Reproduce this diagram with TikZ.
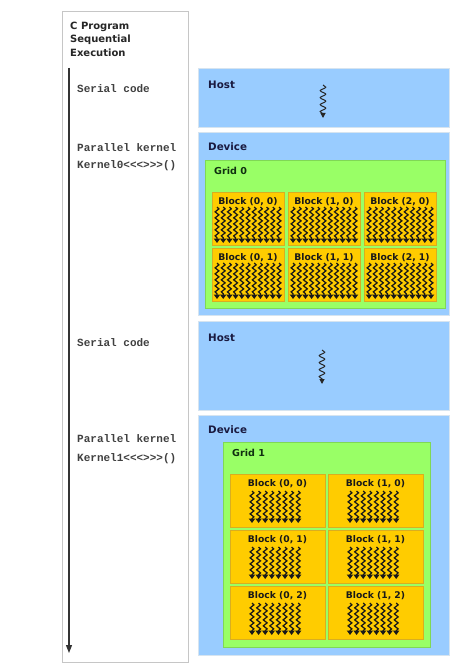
\documentclass[tikz,border=0pt]{standalone}
\usepackage{fontspec}
\setmainfont{DejaVu Sans}
\setmonofont{Liberation Mono}
\usetikzlibrary{decorations.pathmorphing,arrows.meta}
\definecolor{hostblue}{HTML}{99CCFF}
\definecolor{hostedge}{HTML}{D6E4F0}
\definecolor{gridgreen}{HTML}{99FF66}
\definecolor{gridedge}{HTML}{80D855}
\definecolor{blockgold}{HTML}{FFCC00}
\definecolor{blockedge}{HTML}{D9AE20}
\definecolor{navy}{HTML}{1A1A40}
\definecolor{dkgreen}{HTML}{103010}
\newcommand\blockthreads[6]{% #1 node, #2 x0, #3 spacing, #4 last index, #5 y offset, #6 length
  \foreach \k in {0,...,#4}{%
    \draw[thread] ([xshift=#2pt+\k*#3pt, yshift=-#5pt]#1.north west) -- ++(0,#6);}}
\begin{document}
\begin{tikzpicture}[x=1pt,y=-1pt,
  rbox/.style={anchor=north west, inner sep=0pt, outer sep=0pt},
  panelbox/.style={rbox, draw=gray!45, fill=white, line width=0.8pt},
  bluebox/.style={rbox, draw=hostedge, fill=hostblue, line width=1pt},
  greenbox/.style={rbox, draw=gridedge, fill=gridgreen, line width=1pt},
  goldbox/.style={rbox, draw=blockedge, fill=blockgold, line width=0.6pt},
  hdr/.style={anchor=base west, inner sep=0pt, font=\fontsize{10.3}{12}\selectfont\bfseries, text=navy},
  gridlbl/.style={anchor=base west, inner sep=0pt, font=\fontsize{9.6}{11}\selectfont\bfseries, text=dkgreen},
  blbl/.style={anchor=base, inner sep=0pt, font=\fontsize{9.2}{10}\selectfont\bfseries, text=black!90},
  code/.style={anchor=base west, inner sep=0pt, font=\fontsize{11}{12}\selectfont\ttfamily\bfseries, text=black!75},
  thread/.style={line width=1.25pt, black!90, decorate,
    decoration={snake, amplitude=1.9pt, segment length=6pt, post length=3.5pt},
    -{Triangle[width=6.2pt,length=4.5pt]}},
  hthread/.style={line width=1pt, black!85, decorate,
    decoration={snake, amplitude=2.8pt, segment length=7pt, post length=4pt},
    -{Triangle[width=5pt,length=5pt]}},
  mainarrow/.style={line width=1.3pt, black!80, -{Triangle[width=6pt,length=8pt]}}
]
\useasboundingbox (0,0) rectangle (452,668);
\fill[white] (0,0) rectangle (452,668);

% left panel
\node[panelbox, minimum width=126, minimum height=651] (prog) at (62,11) {};
\node[anchor=north west, inner sep=0pt, align=left, text=black!85,
  font=\fontsize{10}{13.5}\selectfont\bfseries] (title) at (70,21.5) {C Program\\Sequential\\Execution};
\coordinate (astart) at (69,68);
\coordinate (aend) at (69,653);
\draw[mainarrow] (astart) -- (aend);

\node[code] (ser1) at (77,93) {Serial code};
\node[code] (par1) at (77,152) {Parallel kernel};
\node[code] (ker0) at (77,169) {Kernel0<<<>>>()};
\node[code] (ser2) at (77,346) {Serial code};
\node[code] (par2) at (77,442) {Parallel kernel};
\node[code] (ker1) at (77,461) {Kernel1<<<>>>()};

% host 1
\node[bluebox, minimum width=251, minimum height=59] (host1) at (198,69) {};
\node[hdr] (host1l) at (208,89) {Host};
\coordinate (h1a) at (323,85);
\coordinate (h1b) at (323,118);
\draw[hthread] (h1a) -- (h1b);

% device 1
\node[bluebox, minimum width=251, minimum height=182] (dev1) at (198,133) {};
\node[hdr] (dev1l) at (208,151) {Device};
\node[greenbox, minimum width=240, minimum height=147] (grid0) at (205,161) {};
\node[gridlbl] (grid0l) at (214,175) {Grid 0};
\foreach \c/\x in {0/212,1/288,2/364}{
  \foreach \r/\y in {0/192,1/248}{
    \node[goldbox, minimum width=72, minimum height=53] (ga\c\r) at (\x,\y) {};
    \node[blbl] (ga\c\r l) at ([yshift=-12.5pt]ga\c\r.north) {Block (\c, \r)};
    \blockthreads{ga\c\r}{5}{6.2}{10}{15}{36}
  }
}

% host 2
\node[bluebox, minimum width=251, minimum height=89] (host2) at (198,321) {};
\node[hdr] (host2l) at (208,341) {Host};
\coordinate (h2a) at (322,350);
\coordinate (h2b) at (322,384);
\draw[hthread] (h2a) -- (h2b);

% device 2
\node[bluebox, minimum width=251, minimum height=240] (dev2) at (198,415) {};
\node[hdr] (dev2l) at (208,433) {Device};
\node[greenbox, minimum width=207, minimum height=205] (grid1) at (223,442) {};
\node[gridlbl] (grid1l) at (232,456) {Grid 1};
\foreach \c/\x in {0/230,1/328}{
  \foreach \r/\y in {0/474,1/530,2/586}{
    \node[goldbox, minimum width=95, minimum height=53] (gb\c\r) at (\x,\y) {};
    \node[blbl] (gb\c\r l) at ([yshift=-12.5pt]gb\c\r.north) {Block (\c, \r)};
    \blockthreads{gb\c\r}{22}{6.6}{7}{17}{32}
  }
}
\end{tikzpicture}
\end{document}
